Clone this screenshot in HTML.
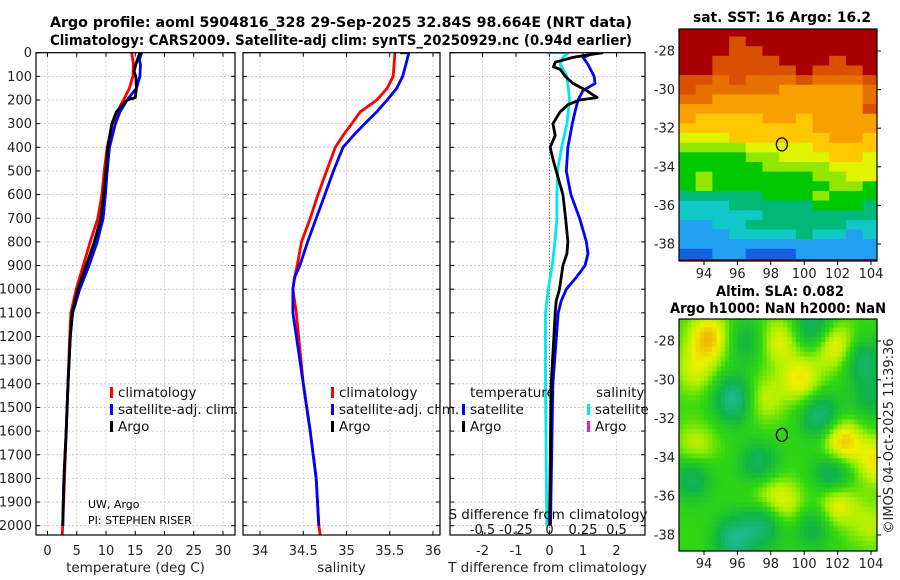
<!DOCTYPE html>
<html><head><meta charset="utf-8">
<style>
body{margin:0;background:#fff;}
svg{display:block;font-family:"DejaVu Sans","Liberation Sans",sans-serif;}
</style></head>
<body>
<svg id="fig" width="900" height="580" viewBox="0 0 900 580" xmlns="http://www.w3.org/2000/svg">
<rect width="900" height="580" fill="#fff"/>
<text x="341" y="27" font-size="14" font-weight="bold" text-anchor="middle" textLength="582" lengthAdjust="spacingAndGlyphs">Argo profile: aoml 5904816_328 29-Sep-2025 32.84S 98.664E (NRT data)</text>
<text x="341" y="45" font-size="14" font-weight="bold" text-anchor="middle" textLength="582" lengthAdjust="spacingAndGlyphs">Climatology: CARS2009. Satellite-adj clim: synTS_20250929.nc (0.94d earlier)</text>
<g id="g1"></g>
<g id="g2"></g>
<g id="g3"></g>
<g id="m1"></g>
<g id="m2"></g>
<text x="782" y="22" font-size="14" font-weight="bold" text-anchor="middle" textLength="178" lengthAdjust="spacingAndGlyphs">sat. SST: 16 Argo: 16.2</text>
<text x="780" y="296" font-size="14" font-weight="bold" text-anchor="middle" textLength="128" lengthAdjust="spacingAndGlyphs">Altim. SLA: 0.082</text>
<text x="778" y="313" font-size="14" font-weight="bold" text-anchor="middle" textLength="216" lengthAdjust="spacingAndGlyphs">Argo h1000: NaN h2000: NaN</text>
<text transform="translate(893,436) rotate(-90)" font-size="13" text-anchor="middle" fill="#222">©IMOS 04-Oct-2025 11:39:36</text>
<text x="88" y="508" font-size="11">UW, Argo</text>
<text x="88" y="524" font-size="11">PI: STEPHEN RISER</text>
</svg>
<script>
// ---------- data ----------
const depthTicks=[0,100,200,300,400,500,600,700,800,900,1000,1100,1200,1300,1400,1500,1600,1700,1800,1900,2000];
const tTicks=[0,5,10,15,20,25,30];
const sTicks=[34,34.5,35,35.5,36];
const dTTicks=[-2,-1,0,1,2];
const dSTicks=[-0.5,-0.25,0,0.25,0.5];
const dSTickLabels=["-0.5","-0.25","0","0.25","0.5"];

const tClimDepth=[0,50,100,150,200,250,300,400,500,600,700,800,900,1000,1100,1200,1400,1600,1800,2000,2050];
const tClim=[14.4,14.7,14.6,14.0,13.0,11.9,11.1,10.2,9.7,9.3,8.6,7.3,6.1,4.9,4.0,3.8,3.5,3.2,2.9,2.6,2.5];
const tSatDepth=[0,30,50,100,150,200,250,300,400,500,600,700,800,900,1000,1100,1200,1400,1600,1800,2000];
const tSat=[16.1,15.7,15.9,15.8,15.2,13.6,12.4,11.6,10.6,10.2,9.9,9.5,8.5,7.1,5.5,4.3,3.9,3.5,3.2,2.8,2.6];
const tArgoDepth=[0,20,50,80,100,150,190,200,250,300,400,500,600,700,800,900,1000,1100,1200,1400,1600,1800,2000];
const tArgo=[15.8,15.5,15.1,14.8,15.1,15.2,15.0,13.6,11.8,11.0,10.3,10.0,9.6,9.1,8.0,6.6,5.2,4.2,3.9,3.5,3.2,2.8,2.6];

const sClimDepth=[0,100,150,200,250,300,350,400,500,600,700,800,900,950,1000,1100,1400,1600,1800,2000,2050];
const sClim=[35.56,35.54,35.47,35.35,35.16,35.06,34.96,34.87,34.77,34.67,34.58,34.48,34.43,34.40,34.38,34.42,34.50,34.58,34.65,34.68,34.70];
const sSatDepth=[0,0,30,100,150,200,250,300,350,400,500,600,700,800,900,950,1000,1100,1400,1600,1800,2000];
const sSat=[35.62,35.72,35.70,35.65,35.58,35.47,35.35,35.21,35.08,34.96,34.85,34.75,34.65,34.55,34.46,34.40,34.38,34.38,34.50,34.58,34.65,34.68];

const dTSatDepth=[0,20,50,100,130,160,200,250,300,400,500,600,700,800,850,900,950,1000,1050,1100,1400,2000];
const dTSat=[1.36,1.0,1.15,1.33,1.36,1.0,0.85,0.76,0.68,0.55,0.5,0.64,0.9,1.1,1.15,1.06,0.8,0.5,0.35,0.26,0.1,0.03];
const dTArgoDepth=[0,10,20,40,60,70,100,130,160,190,200,220,250,300,350,400,450,500,600,700,800,850,900,1000,1050,1100,1400,2000];
const dTArgo=[1.6,1.1,0.7,0.17,0.12,0.32,0.47,0.7,1.1,1.42,0.9,0.55,0.32,0.1,0.17,0.02,0.1,0.2,0.4,0.48,0.55,0.52,0.4,0.3,0.2,0.17,0.05,0.0];
const dSSatDepth=[0,0,20,50,100,150,200,300,400,500,600,700,800,900,1000,1100,1400,2000];
const dSSat=[-0.02,0.14,0.1,0.08,0.13,0.14,0.15,0.13,0.09,0.06,0.055,0.055,0.04,0.02,-0.01,-0.03,-0.03,-0.02];

const lonTicks=[94,96,98,100,102,104];
const latTicks=[-28,-30,-32,-34,-36,-38];
const argoLon=98.664, argoLat=-32.84;
const sstRows=[
[11,11,11,11,11,11,11,11,11,11,11,11],
[11,11,11,10,11,11,11,11,11,11,11,11],
[11,11,11,10,10,11,11,11,11,11,11,11],
[11,11,10,10,10,10,11,11,11,10,11,11],
[11,11,10,10,10,10,10,11,10,10,10,11],
[10,10,9,10,9,9,9,10,9,9,9,10],
[10,9,9,9,9,9,8,8,8,8,8,9],
[9,9,8,8,8,8,8,8,8,8,8,9],
[8,8,8,8,8,8,8,8,8,8,8,10],
[8,7,7,7,7,8,8,7,8,8,8,8],
[7,7,7,7,7,7,7,7,8,8,8,8],
[6,6,6,7,7,7,7,7,7,8,8,7],
[5,5,5,5,6,6,6,6,7,7,7,7],
[4,4,4,4,5,5,6,6,6,7,7,6],
[4,4,4,4,4,5,5,5,5,6,6,6],
[4,5,4,4,4,4,4,4,5,5,6,6],
[4,5,4,4,4,4,4,4,4,5,5,4],
[3,3,3,3,3,4,4,4,5,4,4,4],
[2,2,2,3,3,3,3,3,4,4,4,3],
[2,2,2,2,2,3,3,3,3,3,3,3],
[1,1,2,2,3,3,3,3,3,3,2,2],
[1,1,1,2,2,2,2,3,2,2,1,2],
[1,1,1,1,1,1,1,1,1,1,1,1],
[0,0,1,1,0,0,0,1,1,1,1,1]];
const slaLon=[94.3,101.8,99.8,97.5,102.2,104.3,101.9,97.8,93.5,93.5,99,104,98.5,95.8,101,100.6,103.5,101.7,97.3,93.3,97.6,95.8,96.5,100.5,104];
const slaLat=[-27.8,-28.2,-30,-31,-33.2,-34.2,-36.3,-35.9,-29.5,-33.5,-36.5,-37.5,-28,-31,-31.9,-27.3,-29,-34.9,-34.4,-35,-37.4,-38.2,-28,-37.5,-31];
const slaAmp=[0.9,0.8,0.7,0.5,1.0,0.7,0.8,0.5,0.5,0.5,0.5,0.4,0.6,-1.0,-0.9,-0.8,-0.7,-0.9,-0.7,-0.7,-0.8,-0.9,-0.5,-0.6,-0.5];

// ---------- helpers ----------
const NS="http://www.w3.org/2000/svg";
function mk(parent,tag,attrs){const e=document.createElementNS(NS,tag);for(const k in attrs)e.setAttribute(k,attrs[k]);parent.appendChild(e);return e;}
const yTop=52.7, yScale=0.2365, yBot=535;
const yD=d=>yTop+d*yScale;

function panel(g,x0,x1,xs,ticks,labels,title,showY,name){
  depthTicks.forEach(d=>{const l=mk(g,'line',{x1:x0,x2:x1,y1:yD(d),y2:yD(d),stroke:'#b8bde0','stroke-width':0.8,'stroke-dasharray':'2,2'});
  
  });
  ticks.forEach((t,i)=>{const x=xs(t);const l=mk(g,'line',{x1:x,x2:x,y1:yTop,y2:yBot,stroke:'#d8c8c0','stroke-width':0.8,'stroke-dasharray':'2,2'});
  
  
  mk(g,'line',{x1:x,x2:x,y1:yBot,y2:yBot-4,stroke:'#000'});
  mk(g,'line',{x1:x,x2:x,y1:yTop,y2:yTop+4,stroke:'#000'});
  const tx=mk(g,'text',{x:x,y:555,'font-size':13,'text-anchor':'middle',fill:'#222'});tx.textContent=labels[i];
  
  });
  depthTicks.forEach(d=>{mk(g,'line',{x1:x0,x2:x0+4,y1:yD(d),y2:yD(d),stroke:'#000'});mk(g,'line',{x1:x1,x2:x1-4,y1:yD(d),y2:yD(d),stroke:'#000'});
    if(showY){const t=mk(g,'text',{x:32,y:yD(d)+4.5,'font-size':13,'text-anchor':'end',fill:'#222'});t.textContent=d;
    
    }});
  const tt=mk(g,'text',{x:(x0+x1)/2,y:572,'font-size':13.5,'text-anchor':'middle',fill:'#222'});tt.textContent=title;
  
  
}
function frame(g,x0,x1){const r=mk(g,'rect',{x:x0,y:yTop,width:x1-x0,height:yBot-yTop,fill:'none',stroke:'#000','stroke-width':1.2});
  
  }
function line(g,xs,depths,vals,col,name,clip){
  const pts=depths.map((d,i)=>xs(vals[i]).toFixed(1)+','+yD(d).toFixed(1)).join(' ');
  const p=mk(g,'polyline',{points:pts,fill:'none',stroke:col,'stroke-width':2.8,'stroke-linejoin':'round','clip-path':'url(#'+clip+')'});
  
  
}
function legend(g,x,y,col,label,name){
  mk(g,'rect',{x:x,y:y-9,width:3,height:11,fill:col});
  const t=mk(g,'text',{x:x+8,y:y+1,'font-size':13.5,fill:'#111'});t.textContent=label;
  
  
}
const svg=document.getElementById('fig');
const defs=mk(svg,'defs',{});
[['c1',36,235],['c2',243,440],['c3',450,645]].forEach(([id,a,b])=>{const c=mk(defs,'clipPath',{id:id});mk(c,'rect',{x:a,y:yTop,width:b-a,height:yBot-yTop});});

const g1=document.getElementById('g1');
const xT=t=>47.5+t*5.85;
panel(g1,36,235,xT,tTicks,tTicks.map(String),'temperature (deg C)',true,'temperature');
line(g1,xT,tClimDepth,tClim,'#f00','temp-climatology-line','c1');
line(g1,xT,tSatDepth,tSat,'#00f','temp-satellite-line','c1');
line(g1,xT,tArgoDepth,tArgo,'#000','temp-argo-line','c1');
frame(g1,36,235);
legend(g1,110,396,'#f00','climatology','legend-climatology');
legend(g1,110,413,'#00f','satellite-adj. clim.','legend-satellite');
legend(g1,110,430,'#000','Argo','legend-argo');

const g2=document.getElementById('g2');
const xS=s=>260+(s-34)*86.5;
panel(g2,243,440,xS,sTicks,sTicks.map(String),'salinity',false,'salinity');
line(g2,xS,sClimDepth,sClim,'#f00','sal-climatology-line','c2');
line(g2,xS,sSatDepth,sSat,'#00f','sal-satellite-line','c2');
frame(g2,243,440);
legend(g2,331,396,'#f00','climatology','legend-climatology-s');
legend(g2,331,413,'#00f','satellite-adj. clim.','legend-satellite-s');
legend(g2,331,430,'#000','Argo','legend-argo-s');

const g3=document.getElementById('g3');
const xDT=v=>549.5+v*33.5;
const xDS=v=>549.5+v*134;
panel(g3,450,645,xDT,dTTicks,dTTicks.map(String),'T difference from climatology',false,'t-difference');
mk(g3,'line',{x1:549.5,x2:549.5,y1:yTop,y2:yBot,stroke:'#444','stroke-width':1,'stroke-dasharray':'1,2'});
line(g3,xDS,dSSatDepth,dSSat,'#00e8ee','sdiff-satellite-line','c3');
line(g3,xDT,dTSatDepth,dTSat,'#00f','tdiff-satellite-line','c3');
line(g3,xDT,dTArgoDepth,dTArgo,'#000','tdiff-argo-line','c3');
frame(g3,450,645);
const st=mk(g3,'text',{x:548,y:519,'font-size':13.5,'text-anchor':'middle',fill:'#111'});st.textContent='S difference from climatology';


dSTicks.forEach((v,i)=>{const t=mk(g3,'text',{x:xDS(v),y:534,'font-size':13,'text-anchor':'middle',fill:'#111'});t.textContent=dSTickLabels[i];

});
const lt=mk(g3,'text',{x:470,y:397,'font-size':13.5,fill:'#111'});lt.textContent='temperature';


const ls=mk(g3,'text',{x:596,y:397,'font-size':13.5,fill:'#111'});ls.textContent='salinity';


legend(g3,462,413,'#00f','satellite','legend-t-satellite');
legend(g3,462,430,'#000','Argo','legend-t-argo');
legend(g3,587,413,'#00e8ee','satellite','legend-s-satellite');
legend(g3,587,430,'#e020d0','Argo','legend-s-argo');

// ---------- maps ----------
const mx0=679,mx1=877;
const lonX=lon=>704+(lon-94)*16.7;
const sstCols=['#1560e0','#20a0f0','#10c8c8','#00b878','#00c800','#90e800','#e0f400','#ffc800','#f8a000','#e87000','#d85000','#a80000'];
function mapAxes(g,y0,y1,latY,name){
  lonTicks.forEach(l=>{const x=lonX(l);mk(g,'line',{x1:x,x2:x,y1:y1,y2:y1+4,stroke:'#000'});
    const t=mk(g,'text',{x:x,y:y1+17,'font-size':13,'text-anchor':'middle',fill:'#222'});t.textContent=l;
    
    });
  latTicks.forEach(l=>{const y=latY(l);mk(g,'line',{x1:mx1,x2:mx1+4,y1:y,y2:y,stroke:'#000'});
    const t=mk(g,'text',{x:mx0-4,y:y+4.5,'font-size':13,'text-anchor':'end',fill:'#222'});t.textContent=l;
    
    });
  const r=mk(g,'rect',{x:mx0,y:y0,width:mx1-mx0,height:y1-y0,fill:'none',stroke:'#000','stroke-width':1.2});
  
  
  const c=mk(g,'ellipse',{cx:lonX(argoLon),cy:latY(argoLat),rx:5.5,ry:6.5,fill:'none',stroke:'#000','stroke-width':1.3});
  
  
}
const m1=document.getElementById('m1');
const latY1=lat=>51+(-28-lat)*19.3;
mk(m1,'rect',{x:mx0,y:29,width:mx1-mx0,height:232,fill:sstCols[11]});
sstRows.forEach((row,ri)=>{const latN=-26.75-ri*0.5;row.forEach((v,ci)=>{const lonW=92.5+ci*1;
  const x=Math.max(mx0,lonX(lonW)),xe=Math.min(mx1,lonX(lonW+1));
  const ya=Math.max(29,latY1(latN)),yb=Math.min(261,latY1(latN-0.5));
  if(xe>x&&yb>ya){const r=mk(m1,'rect',{x:x,y:ya,width:xe-x+0.5,height:yb-ya+0.5,fill:sstCols[v]});
  
  }});});
mapAxes(m1,29,261,latY1,'sst-map');
const m2=document.getElementById('m2');
const latY2=lat=>341+(-28-lat)*19.4;
function slaColor(v){
  const stops=[[-1.0,[32,184,150]],[-0.5,[16,180,70]],[0,[48,216,16]],[0.35,[170,240,0]],[0.65,[240,240,0]],[1.0,[240,170,0]]];
  if(v<=stops[0][0])return 'rgb('+stops[0][1]+')';
  for(let i=1;i<stops.length;i++){if(v<=stops[i][0]){const a=stops[i-1],b=stops[i],f=(v-a[0])/(b[0]-a[0]);
    return 'rgb('+a[1].map((c,k)=>Math.round(c+(b[1][k]-c)*f)).join(',')+')';}}
  return 'rgb('+stops[stops.length-1][1]+')';
}
const step=0.25;
for(let lat=-26.8;lat>-39;lat-=step){for(let lon=92.5;lon<104.4;lon+=step){
  let v=0;for(let k=0;k<slaLon.length;k++){const dx=lon+step/2-slaLon[k],dy=lat-step/2-slaLat[k];v+=slaAmp[k]*Math.exp(-(dx*dx+dy*dy)/1.5);}
  const x=Math.max(mx0,lonX(lon)),xe=Math.min(mx1,lonX(lon+step));
  const ya=Math.max(319,latY2(lat)),yb=Math.min(551,latY2(lat-step));
  if(xe>x&&yb>ya){const r=mk(m2,'rect',{x:x,y:ya,width:xe-x+0.5,height:yb-ya+0.5,fill:slaColor(v)});
  
  }
}}
mapAxes(m2,319,551,latY2,'sla-map');
</script>
</body></html>
